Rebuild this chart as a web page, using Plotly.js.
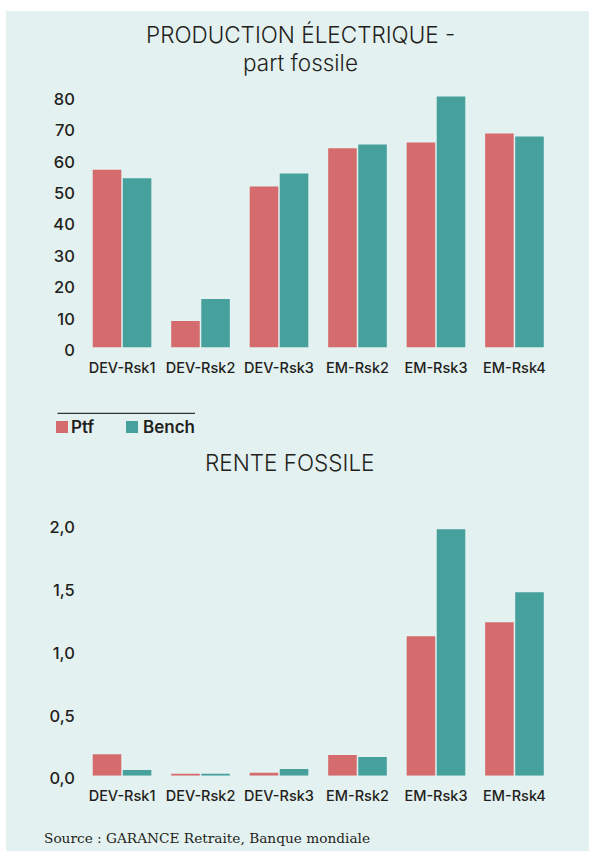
<!DOCTYPE html>
<html>
<head>
<meta charset="utf-8">
<script src="https://cdn.plot.ly/plotly-3.0.1.min.js"></script>
<style>
  html, body { margin: 0; padding: 0; background: #ffffff; }
  #chart { width: 589px; height: 851px; }
</style>
</head>
<body>
<div id="chart"></div>
<script>
// ---- data ----
const categories = ['DEV-Rsk1', 'DEV-Rsk2', 'DEV-Rsk3', 'EM-Rsk2', 'EM-Rsk3', 'EM-Rsk4'];
const seriesNames = ['Ptf', 'Bench'];
const prodPtf   = [56.5, 8.4, 51.2, 63.3, 65.2, 68.0];
const prodBench = [53.8, 15.4, 55.3, 64.5, 79.8, 67.1];
const rentePtf   = [0.17, 0.016, 0.024, 0.165, 1.11, 1.22];
const renteBench = [0.045, 0.015, 0.053, 0.149, 1.96, 1.46];
const prodTicks = [0, 10, 20, 30, 40, 50, 60, 70, 80];
const renteTickVals = [0, 0.5, 1, 1.5, 2];
const renteTickText = ['0,0', '0,5', '1,0', '1,5', '2,0'];
const titleTopLine1 = 'PRODUCTION ÉLECTRIQUE -';
const titleTopLine2 = 'part fossile';
const titleBottom = 'RENTE FOSSILE';
const sourceText = 'Source : GARANCE Retraite, Banque mondiale';

// ---- style ----
const W = 589, H = 851;
const RED = '#d66b6d', TEAL = '#46a19c', BG = '#e3f1f0', INK = '#231f20';
const FONT = 'Inter, "DejaVu Sans", sans-serif';
const px = x => x / W;
const py = y => 1 - y / H;

const traces = [
  {type: 'bar', x: categories, y: prodPtf, name: seriesNames[0], marker: {color: RED}, xaxis: 'x', yaxis: 'y', hoverinfo: 'none'},
  {type: 'bar', x: categories, y: prodBench, name: seriesNames[1], marker: {color: TEAL}, xaxis: 'x', yaxis: 'y', hoverinfo: 'none'},
  {type: 'bar', x: categories, y: rentePtf, name: seriesNames[0], marker: {color: RED}, xaxis: 'x2', yaxis: 'y2', hoverinfo: 'none'},
  {type: 'bar', x: categories, y: renteBench, name: seriesNames[1], marker: {color: TEAL}, xaxis: 'x2', yaxis: 'y2', hoverinfo: 'none'}
];

const xDom = [px(82.8), px(553.7)];
const tickFont = {family: FONT, size: 16.5, color: INK, weight: 500};
const xTickFont = {family: FONT, size: 14.5, color: INK, weight: 500};
const titleFont = {family: FONT, size: 22.5, color: INK, weight: 300};

const layout = {
  width: W, height: H,
  margin: {l: 0, r: 0, t: 0, b: 0, pad: 0},
  paper_bgcolor: '#ffffff',
  plot_bgcolor: 'rgba(0,0,0,0)',
  showlegend: false,
  barmode: 'group',
  bargap: 0.234,
  bargroupgap: 0.05,
  xaxis: {domain: xDom, anchor: 'y', type: 'category', showgrid: false, zeroline: false, showline: false,
          ticks: '', tickfont: xTickFont, ticklabelstandoff: 10, fixedrange: true},
  yaxis: {domain: [py(347.5), py(80.1)], anchor: 'x', range: [0, 85], tickvals: prodTicks,
          showgrid: false, zeroline: false, showline: false, ticks: '', tickfont: tickFont,
          ticklabelstandoff: 7, ticklabelshift: 3, fixedrange: true},
  xaxis2: {domain: xDom, anchor: 'y2', type: 'category', showgrid: false, zeroline: false, showline: false,
           ticks: '', tickfont: xTickFont, ticklabelstandoff: 10, fixedrange: true},
  yaxis2: {domain: [py(775.7), py(511.7)], anchor: 'x2', range: [0, 2.1], tickvals: renteTickVals,
           ticktext: renteTickText, showgrid: false, zeroline: false, showline: false, ticks: '',
           tickfont: tickFont, ticklabelstandoff: 7, ticklabelshift: 3, fixedrange: true},
  shapes: [
    {type: 'rect', xref: 'paper', yref: 'paper', x0: px(6), x1: 1, y0: 0, y1: py(11),
     fillcolor: BG, line: {width: 0}, layer: 'below'},
    {type: 'line', xref: 'paper', yref: 'paper', x0: px(57.5), x1: px(195), y0: py(413.3), y1: py(413.3),
     line: {color: '#333333', width: 1.2}},
    {type: 'rect', xref: 'paper', yref: 'paper', x0: px(56), x1: px(68), y0: py(433), y1: py(421),
     fillcolor: RED, line: {width: 0}},
    {type: 'rect', xref: 'paper', yref: 'paper', x0: px(126), x1: px(138), y0: py(433), y1: py(421),
     fillcolor: TEAL, line: {width: 0}}
  ],
  annotations: [
    {xref: 'paper', yref: 'paper', x: px(300.5), y: py(35), xanchor: 'center', yanchor: 'middle', showarrow: false,
     text: titleTopLine1, font: titleFont},
    {xref: 'paper', yref: 'paper', x: px(300.5), y: py(62), xanchor: 'center', yanchor: 'middle', showarrow: false,
     text: titleTopLine2, font: titleFont},
    {xref: 'paper', yref: 'paper', x: px(290), y: py(462), xanchor: 'center', yanchor: 'middle', showarrow: false,
     text: titleBottom, font: titleFont},
    {xref: 'paper', yref: 'paper', x: px(69), y: py(427), xanchor: 'left', yanchor: 'middle', showarrow: false,
     text: seriesNames[0], font: {family: FONT, size: 17, color: INK, weight: 600}},
    {xref: 'paper', yref: 'paper', x: px(141), y: py(427), xanchor: 'left', yanchor: 'middle', showarrow: false,
     text: seriesNames[1], font: {family: FONT, size: 17, color: INK, weight: 600}},
    {xref: 'paper', yref: 'paper', x: px(42), y: py(838), xanchor: 'left', yanchor: 'middle', showarrow: false,
     text: sourceText, font: {family: '"DejaVu Serif", serif', size: 13.7, color: INK}}
  ]
};

Plotly.newPlot('chart', traces, layout, {displayModeBar: false, staticPlot: true});
</script>
</body>
</html>
